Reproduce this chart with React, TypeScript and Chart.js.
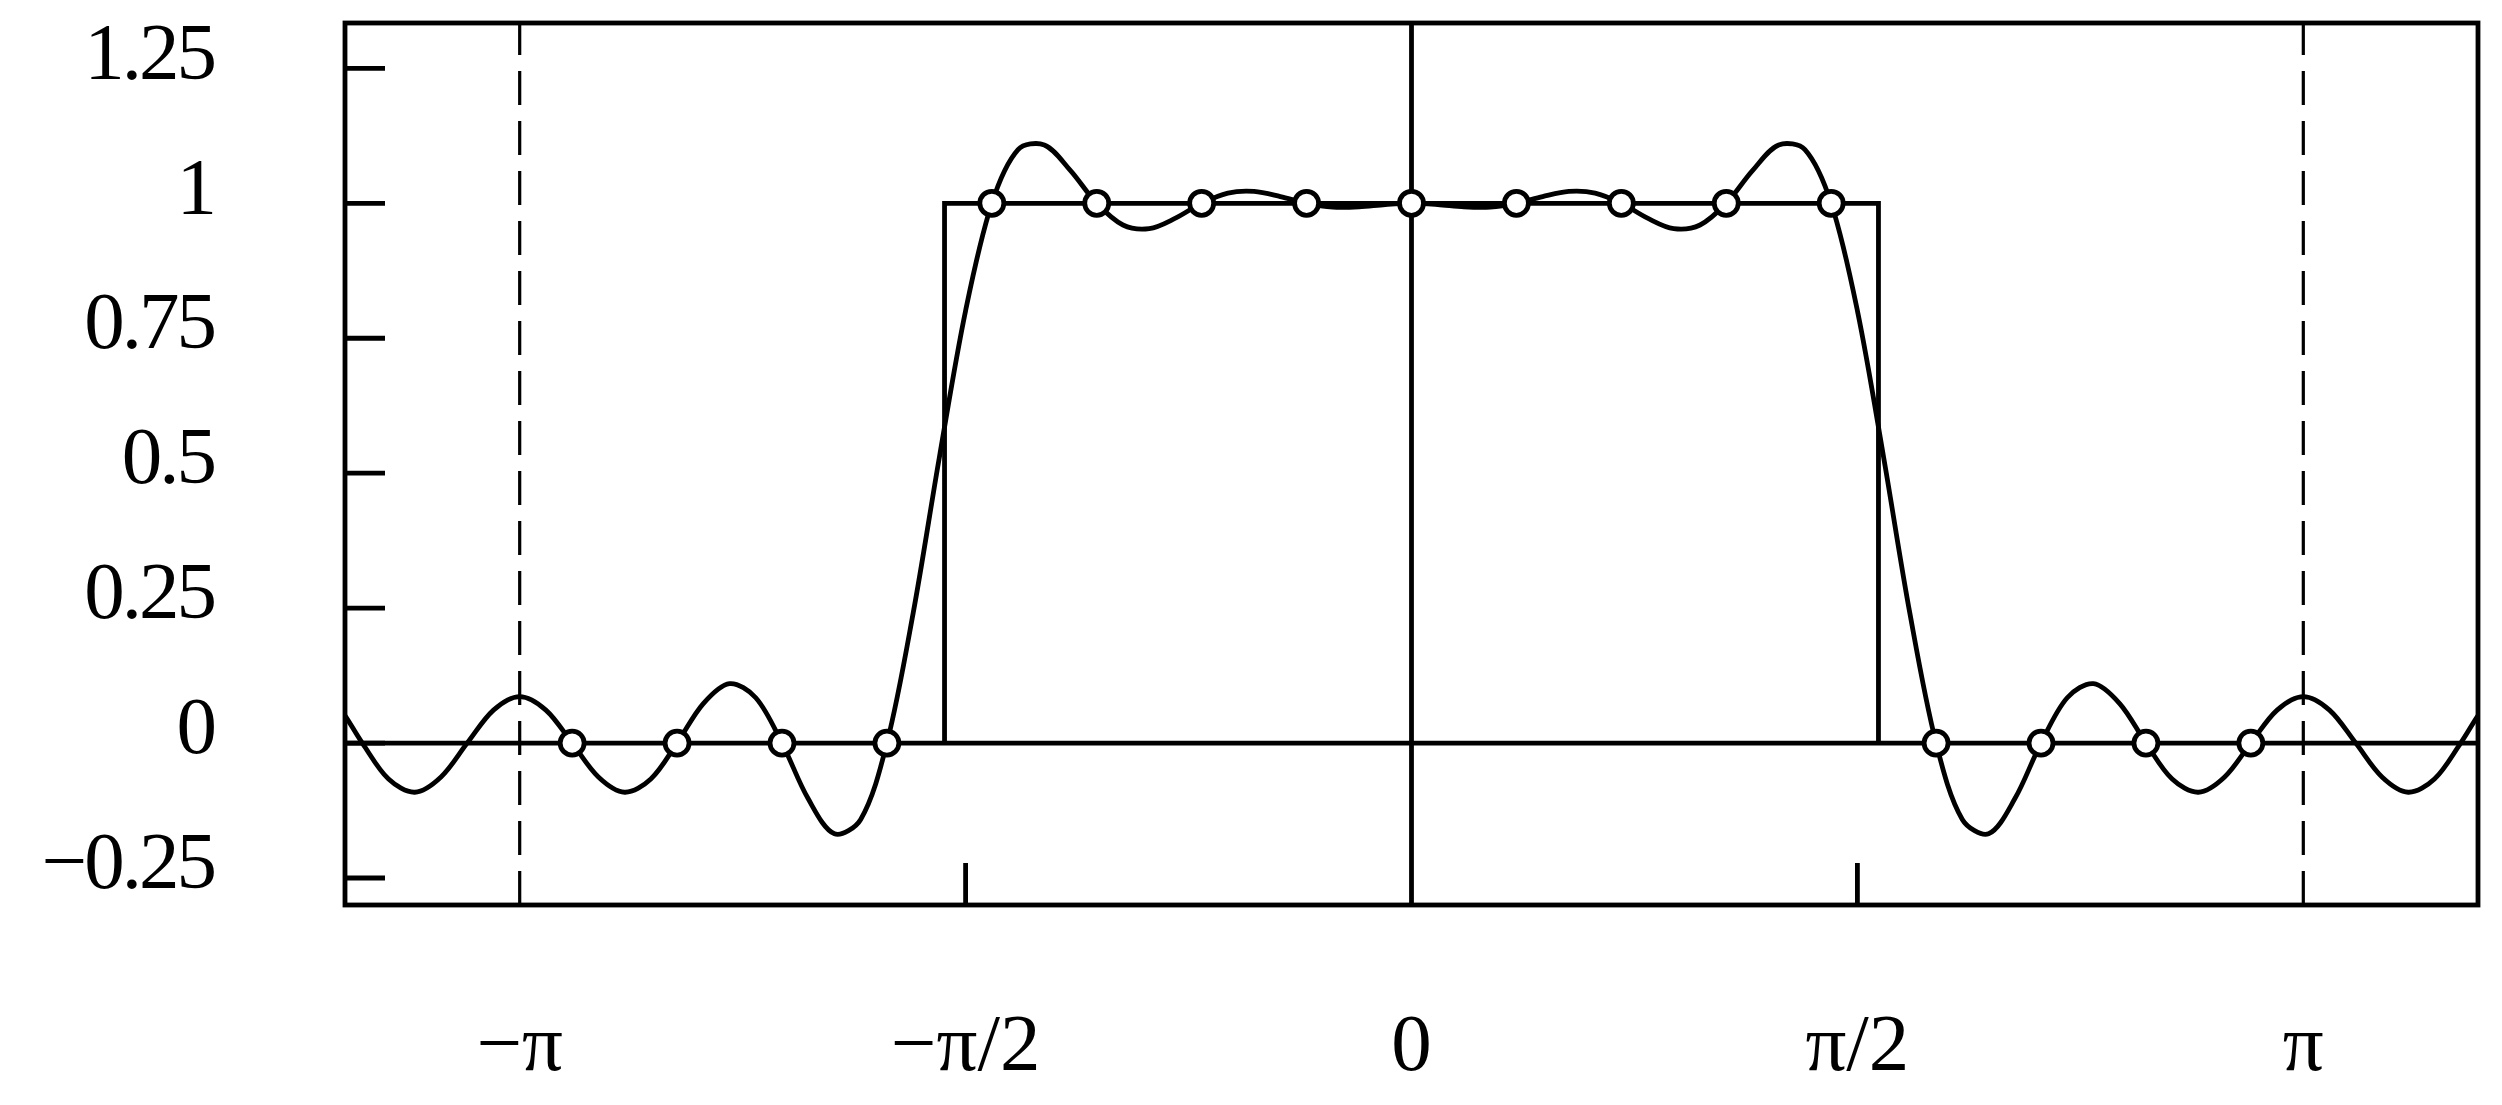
import React, { useEffect, useRef } from "react";
import { Chart, registerables } from "chart.js";

Chart.register(...registerables);

// Interpolating curve (values at quarter sample spacing)
const curveX = [
  -3.8808, -3.7884, -3.696, -3.6036, -3.5112, -3.4188, -3.3264, -3.234, -3.1416, -3.0492,
  -2.9568, -2.8644, -2.772, -2.6796, -2.5872, -2.4948, -2.4024, -2.31, -2.2176, -2.1252,
  -2.0328, -1.9404, -1.848, -1.7556, -1.6632, -1.5708, -1.4784, -1.386, -1.2936, -1.2012,
  -1.1088, -1.0164, -0.924, -0.8316, -0.7392, -0.6468, -0.5544, -0.462, -0.3696, -0.2772,
  -0.1848, -0.0924, 0,
  0.0924, 0.1848, 0.2772, 0.3696, 0.462, 0.5544, 0.6468, 0.7392, 0.8316, 0.924,
  1.0164, 1.1088, 1.2012, 1.2936, 1.386, 1.4784, 1.5708, 1.6632, 1.7556, 1.848,
  1.9404, 2.0328, 2.1252, 2.2176, 2.31, 2.4024, 2.4948, 2.5872, 2.6796, 2.772,
  2.8644, 2.9568, 3.0492, 3.1416, 3.234, 3.3264, 3.4188, 3.5112, 3.6036, 3.696,
  3.7884, 3.8808,
];
const curveY = [
  0.1101, 0.0731, 0, -0.0666, -0.0911, -0.0628, 0, 0.0611, 0.0861, 0.0611,
  0, -0.0628, -0.0911, -0.0666, 0, 0.0731, 0.1101, 0.084, 0, -0.1033,
  -0.168, -0.1415, 0, 0.2405, 0.5294, 0.8011, 1, 1.0995, 1.1081, 1.0606,
  1, 0.9598, 0.953, 0.9724, 1, 1.0189, 1.0219, 1.0124, 1, 0.993,
  0.9935, 0.9977, 1,
  0.9977, 0.9935, 0.993, 1, 1.0124, 1.0219, 1.0189, 1, 0.9724, 0.953,
  0.9598, 1, 1.0606, 1.1081, 1.0995, 1, 0.8011, 0.5294, 0.2405, 0,
  -0.1415, -0.168, -0.1033, 0, 0.084, 0.1101, 0.0731, 0, -0.0666, -0.0911,
  -0.0628, 0, 0.0611, 0.0861, 0.0611, 0, -0.0628, -0.0911, -0.0666, 0,
  0.0731, 0.1101,
];

// Sample points (open circles)
const sampleX = [
  -2.9568, -2.5872, -2.2176, -1.848, -1.4784, -1.1088, -0.7392, -0.3696, 0,
  0.3696, 0.7392, 1.1088, 1.4784, 1.848, 2.2176, 2.5872, 2.9568,
];
const sampleY = [0, 0, 0, 0, 1, 1, 1, 1, 1, 1, 1, 1, 1, 0, 0, 0, 0];

// Rectangle function
const rectX = [-1.645, -1.645, 1.645, 1.645];
const rectY = [0, 1, 1, 0];

// Axes
const xTickValues = [-3.14159, -1.5708, 0, 1.5708, 3.14159];
const xTickLabels = ["\u2212\u03c0", "\u2212\u03c0/2", "0", "\u03c0/2", "\u03c0"];
const yTickValues = [-0.25, 0, 0.25, 0.5, 0.75, 1, 1.25];
const yTickLabels = ["\u22120.25", "0", "0.25", "0.5", "0.75", "1", "1.25"];
const dashedX = [-3.14159, 3.14159];
const shortTickX = [-1.5708, 1.5708];

const FONT = '"Liberation Serif", "Times New Roman", serif';
const LW = 4.8;

const framePlugin = {
  id: "frame",
  beforeDatasetsDraw(chart: any) {
    const { ctx, chartArea: a, scales } = chart;
    const xs = scales.x;
    const ys = scales.y;
    ctx.save();
    ctx.strokeStyle = "#000";
    ctx.lineCap = "butt";

    // zero lines
    ctx.lineWidth = LW;
    const y0 = ys.getPixelForValue(0);
    ctx.beginPath();
    ctx.moveTo(a.left, y0);
    ctx.lineTo(a.right, y0);
    ctx.stroke();
    const x0 = xs.getPixelForValue(0);
    ctx.beginPath();
    ctx.moveTo(x0, a.top);
    ctx.lineTo(x0, a.bottom);
    ctx.stroke();

    // dashed lines at +-pi
    ctx.lineWidth = 3.2;
    ctx.setLineDash([34, 16]);
    for (const v of dashedX) {
      const px = xs.getPixelForValue(v);
      ctx.beginPath();
      ctx.moveTo(px, a.top - 2);
      ctx.lineTo(px, a.bottom);
      ctx.stroke();
    }
    ctx.setLineDash([]);

    // y ticks (inward)
    ctx.lineWidth = LW;
    for (const v of yTickValues) {
      const py = ys.getPixelForValue(v);
      ctx.beginPath();
      ctx.moveTo(a.left, py);
      ctx.lineTo(a.left + 40, py);
      ctx.stroke();
    }
    // short x ticks (inward)
    for (const v of shortTickX) {
      const px = xs.getPixelForValue(v);
      ctx.beginPath();
      ctx.moveTo(px, a.bottom);
      ctx.lineTo(px, a.bottom - 42);
      ctx.stroke();
    }

    // frame
    ctx.lineWidth = LW;
    ctx.strokeRect(a.left, a.top, a.right - a.left, a.bottom - a.top);
    ctx.restore();
  },
};

export default function App() {
  const ref = useRef<HTMLCanvasElement>(null);

  useEffect(() => {
    if (!ref.current) return;
    const chart = new Chart(ref.current, {
      type: "line",
      data: {
        datasets: [
          {
            label: "samples",
            data: sampleX.map((x, i) => ({ x, y: sampleY[i] })),
            showLine: false,
            pointRadius: 12,
            pointBorderWidth: LW,
            pointBackgroundColor: "#fff",
            pointBorderColor: "#000",
            borderColor: "#000",
          },
          {
            label: "interpolant",
            data: curveX.map((x, i) => ({ x, y: curveY[i] })),
            borderColor: "#000",
            borderWidth: LW,
            pointRadius: 0,
            tension: 0.33,
            fill: false,
          },
          {
            label: "rect",
            data: rectX.map((x, i) => ({ x, y: rectY[i] })),
            borderColor: "#000",
            borderWidth: LW,
            pointRadius: 0,
            tension: 0,
            borderJoinStyle: "miter",
            fill: false,
          },
        ],
      } as any,
      options: {
        animation: false,
        responsive: false,
        devicePixelRatio: 1,
        events: [],
        layout: { padding: { left: 0, right: 24, top: 23, bottom: 0 } },
        plugins: { legend: { display: false }, tooltip: { enabled: false } },
        scales: {
          x: {
            type: "linear",
            min: -3.757,
            max: 3.757,
            afterBuildTicks: (s: any) => {
              s.ticks = xTickValues.map((v) => ({ value: v }));
            },
            afterFit: (s: any) => {
              s.height = 200;
              s.paddingLeft = 0;
              s.paddingRight = 0;
            },
            grid: {
              display: true,
              drawOnChartArea: false,
              drawTicks: true,
              tickLength: 95,
              tickColor: "rgba(0,0,0,0)",
            },
            border: { display: false },
            ticks: {
              autoSkip: false,
              maxRotation: 0,
              minRotation: 0,
              padding: 0,
              color: "#000",
              font: { family: FONT, size: 81 },
              callback: (_v: any, i: number) => xTickLabels[i],
            },
          },
          y: {
            type: "linear",
            min: -0.3,
            max: 1.334,
            afterBuildTicks: (s: any) => {
              s.ticks = yTickValues.map((v) => ({ value: v }));
            },
            afterFit: (s: any) => {
              s.width = 345;
              s.paddingTop = 0;
              s.paddingBottom = 0;
              if (!s.__spaced) {
                const orig = s.drawLabels;
                s.drawLabels = function (area: any) {
                  const c = this.ctx;
                  c.save();
                  c.letterSpacing = "-3px";
                  orig.call(this, area);
                  c.restore();
                };
                s.__spaced = true;
              }
            },
            grid: {
              display: true,
              drawOnChartArea: false,
              drawTicks: true,
              tickLength: 131,
              tickColor: "rgba(0,0,0,0)",
            },
            border: { display: false },
            ticks: {
              padding: 0,
              labelOffset: -11,
              color: "#000",
              font: { family: FONT, size: 81, lineHeight: 0.5 },
              callback: (_v: any, i: number) => yTickLabels[i],
            },
          },
        },
      } as any,
      plugins: [framePlugin],
    });
    return () => chart.destroy();
  }, []);

  return (
    <div
      style={{
        position: "absolute",
        left: 0,
        top: 0,
        width: 2502,
        height: 1105,
        background: "#fff",
      }}
    >
      <canvas ref={ref} width={2502} height={1105} style={{ display: "block" }} />
    </div>
  );
}
